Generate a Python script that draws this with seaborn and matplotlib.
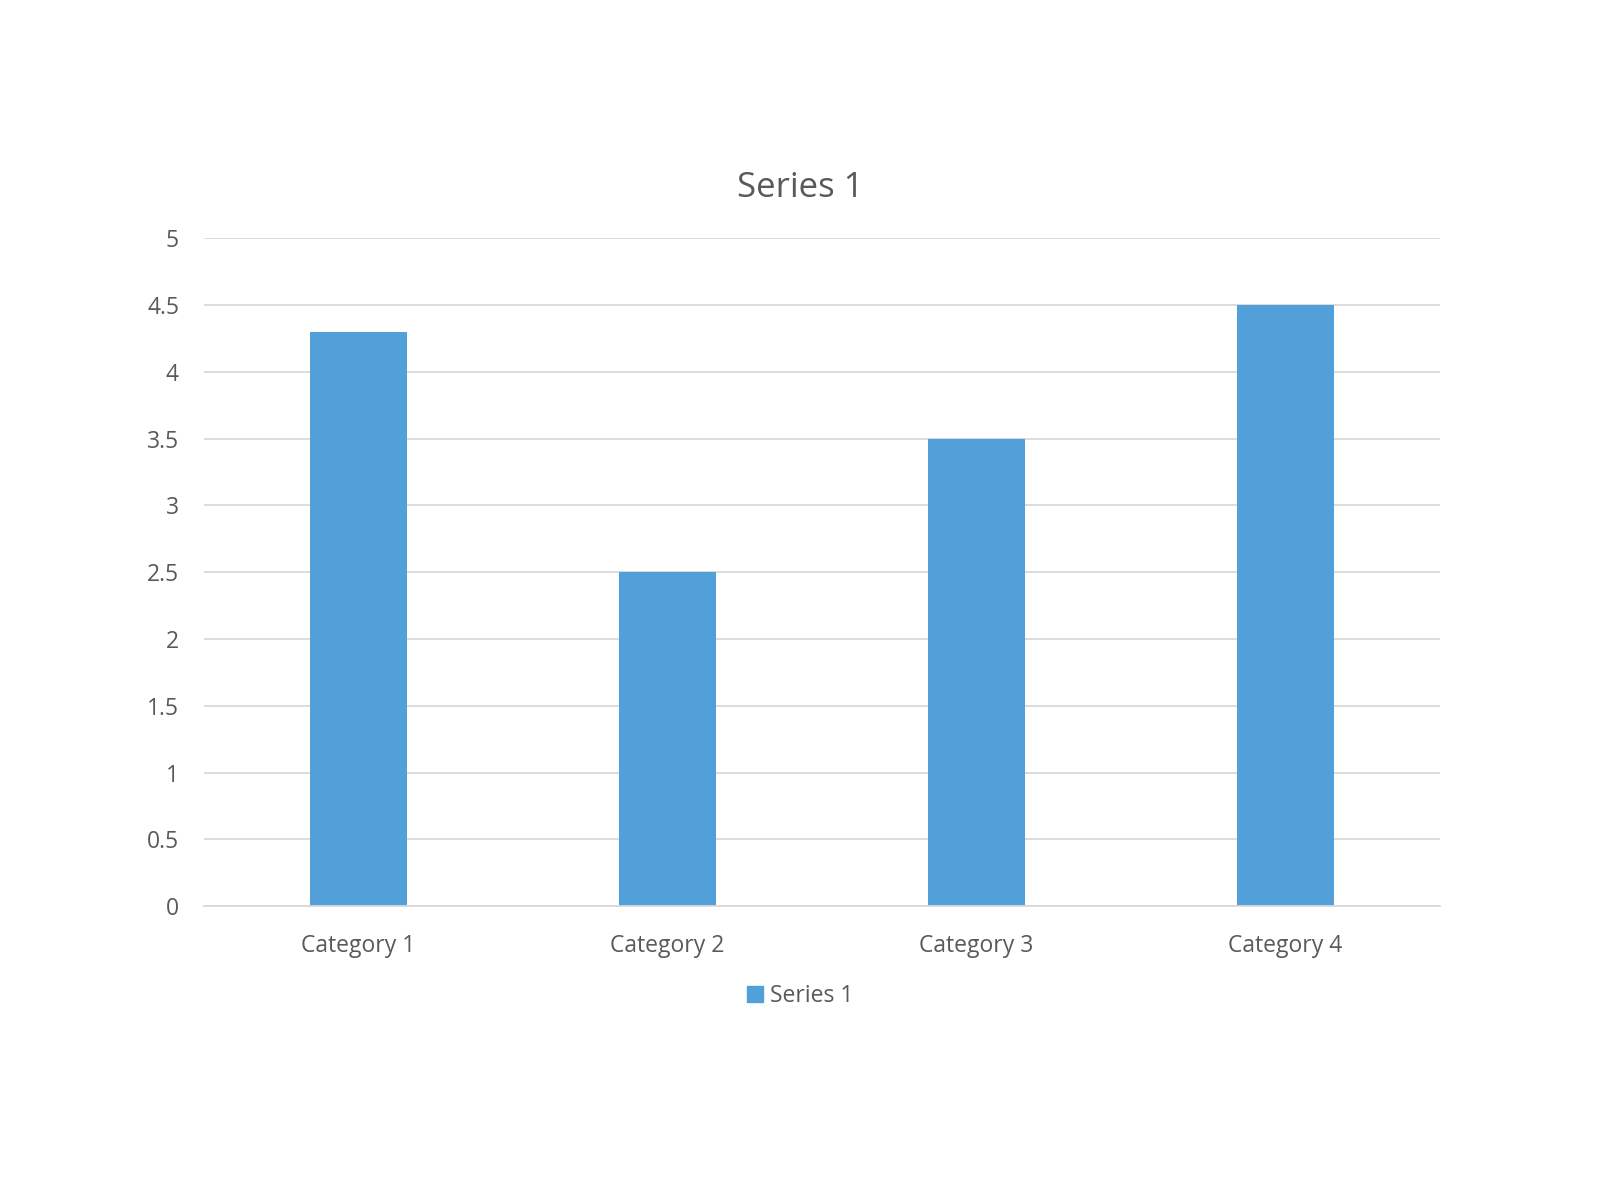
import matplotlib
matplotlib.use("Agg")
import matplotlib.pyplot as plt
import seaborn as sns
import pandas as pd

categories = ["Category 1", "Category 2", "Category 3", "Category 4"]
values = [4.3, 2.5, 3.5, 4.5]
series_name = "Series 1"
yticks = [0, 0.5, 1, 1.5, 2, 2.5, 3, 3.5, 4, 4.5, 5]

sns.set_theme(style="white")
plt.rcParams["font.family"] = ["Open Sans", "DejaVu Sans"]

BAR = "#52a0d9"
TXT = "#595959"

df = pd.DataFrame({"category": categories, "value": values, "series": series_name})

fig = plt.figure(figsize=(16, 11.97), dpi=100)
ax = fig.add_axes([0.1275, 0.243, 0.7725, 0.558])

sns.barplot(data=df, x="category", y="value", hue="series", palette=[BAR],
            width=0.315, saturation=1, linewidth=0, ax=ax, legend=False)

ax.set_ylim(0, 5)
ax.set_xlim(-0.5, len(categories) - 0.5)
ax.set_yticks(yticks)
ax.set_yticklabels([f"{t:g}" for t in yticks])
ax.yaxis.grid(True, color="#d9d9d9", linewidth=1.3)
ax.set_axisbelow(True)
for s in ["top", "right", "left"]:
    ax.spines[s].set_visible(False)
ax.spines["bottom"].set_color("#d9d9d9")
ax.spines["bottom"].set_linewidth(1.3)
ax.tick_params(axis="both", length=0, labelsize=16.5, labelcolor=TXT)
ax.tick_params(axis="y", pad=18)
ax.tick_params(axis="x", pad=20)
ax.set_xlabel("")
ax.set_ylabel("")

fig.text(0.5, 1 - 188 / 1197, series_name, ha="center", va="center",
         fontsize=25, color=TXT)

handle = plt.Rectangle((0, 0), 1, 1, color=BAR)
fig.legend([handle], [series_name], loc="center", bbox_to_anchor=(0.5, 1 - 996 / 1197),
           frameon=False, fontsize=16.5, labelcolor=TXT, handlelength=0.7,
           handleheight=0.7, handletextpad=0.3)

fig.savefig("out.png", dpi=100)
